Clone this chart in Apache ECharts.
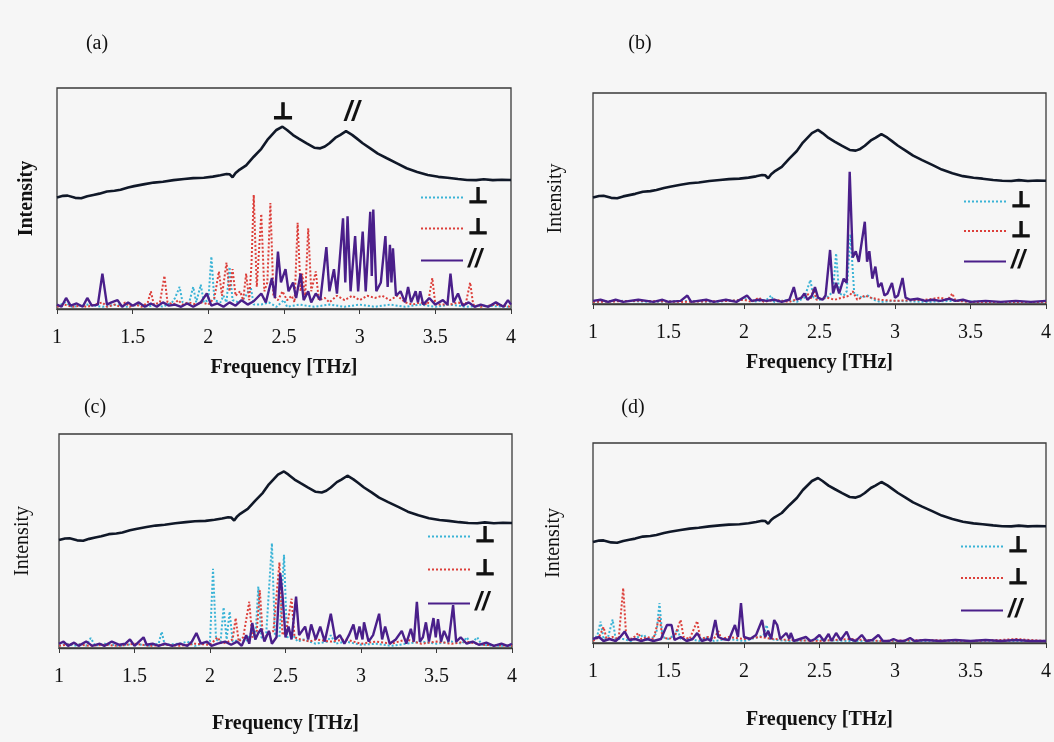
<!DOCTYPE html>
<html>
<head>
<meta charset="utf-8">
<script src="https://cdn.jsdelivr.net/npm/echarts@6/dist/echarts.min.js"></script>
<style>
  html, body { margin: 0; padding: 0; background: #f6f6f6; }
  #chart { width: 1054px; height: 742px; }
</style>
</head>
<body>
<div id="chart"></div>
<script>
// frequency axis ticks [THz]
var freqMin = 1, freqMax = 4, freqStep = 0.5;

// measured broad spectrum (same curve in every panel), intensity in % of panel height
var spectrum = [[1.0,50.5],[1.04,51.2],[1.07,51.3],[1.12,50.3],[1.16,50.1],[1.2,51],[1.24,51.6],[1.28,52.2],[1.33,53.2],[1.38,53.5],[1.42,54],[1.47,55],[1.51,55.6],[1.58,56.5],[1.64,57.2],[1.7,57.6],[1.77,58.3],[1.84,58.8],[1.9,59.2],[1.97,59.4],[2.03,59.9],[2.08,60.5],[2.12,61.1],[2.14,61],[2.16,59.6],[2.18,61.5],[2.2,62.7],[2.25,65],[2.3,68.9],[2.35,72.5],[2.39,76.5],[2.45,81],[2.49,82.5],[2.52,81],[2.56,78.7],[2.6,77],[2.65,74.9],[2.7,73],[2.74,72.7],[2.77,73.5],[2.8,75],[2.84,77.5],[2.87,78.7],[2.91,80.5],[2.95,78.8],[2.98,77.2],[3.02,75],[3.07,72.7],[3.12,70.3],[3.18,68.2],[3.25,65.8],[3.31,63.7],[3.38,62],[3.45,60.6],[3.52,59.8],[3.58,59.4],[3.65,58.8],[3.71,58.4],[3.77,58.3],[3.82,58.7],[3.88,58.3],[3.94,58.5],[4.0,58.4]];

// panel (a)
var aPerpCyan = [[1.0,1],[1.05,3],[1.1,1],[1.2,2],[1.3,1],[1.4,2],[1.45,1],[1.55,2],[1.6,1],[1.65,2],[1.7,1],[1.76,3],[1.78,5],[1.81,10],[1.83,3],[1.87,2],[1.9,10],[1.92,3],[1.95,11],[1.97,3],[2.0,4],[2.02,23.7],[2.04,4],[2.08,3],[2.1,6],[2.12,3],[2.14,19],[2.16,4],[2.2,3],[2.24,5],[2.28,10],[2.3,2],[2.35,2],[2.4,3],[2.45,1],[2.5,4],[2.52,1],[2.6,2],[2.7,1],[2.8,2],[2.9,1],[3.0,2],[3.1,1],[3.2,2],[3.3,1],[3.4,2],[3.5,1],[3.6,2],[3.7,1],[3.8,1.5],[4.0,1]];
var aPerpRed = [[1.0,1],[1.05,2],[1.1,1],[1.15,1.5],[1.2,1],[1.25,2],[1.3,3],[1.33,1],[1.38,2],[1.42,1],[1.45,3],[1.48,1],[1.52,2],[1.56,1],[1.6,3],[1.62,8],[1.64,2],[1.68,3],[1.71,15],[1.73,3],[1.77,2],[1.8,4],[1.83,2],[1.87,3],[1.92,2],[1.96,3],[2.0,2],[2.04,5],[2.07,17],[2.09,6],[2.12,21],[2.14,8],[2.16,18],[2.18,6],[2.21,8],[2.23,4],[2.25,16],[2.27,4],[2.285,20],[2.3,51.6],[2.32,10],[2.35,43],[2.37,8],[2.39,12],[2.41,48],[2.43,6],[2.46,4],[2.49,8],[2.52,4],[2.55,6],[2.57,3],[2.59,39],[2.61,8],[2.62,16],[2.64,6],[2.66,36.5],[2.68,8],[2.71,17],[2.73,4],[2.77,5],[2.8,3],[2.85,6],[2.9,4],[2.95,6],[3.0,4],[3.05,6],[3.1,5],[3.15,6],[3.2,4],[3.25,6],[3.3,3],[3.35,2],[3.4,3],[3.45,2],[3.48,14],[3.5,2],[3.55,2],[3.6,2],[3.65,3],[3.7,2],[3.73,12],[3.75,2],[3.8,1],[3.9,2],[4.0,1]];
var aPar = [[1.0,2],[1.03,1],[1.06,5],[1.09,1.5],[1.13,2.5],[1.17,1],[1.2,5],[1.23,1.5],[1.27,2],[1.3,16],[1.33,2],[1.36,3],[1.4,4],[1.43,1],[1.47,3],[1.5,1.5],[1.54,3],[1.58,1],[1.62,2.5],[1.66,1],[1.7,3],[1.74,1.5],[1.78,2],[1.82,1],[1.86,2.5],[1.9,1],[1.95,3],[1.99,7],[2.02,1.5],[2.06,2.5],[2.1,1],[2.14,3],[2.18,1.5],[2.22,4],[2.26,2],[2.3,3.5],[2.35,7],[2.38,3],[2.42,14],[2.44,5],[2.46,26],[2.48,12],[2.51,18],[2.53,8],[2.56,12],[2.58,5],[2.61,16],[2.63,4],[2.66,8],[2.68,3],[2.71,7],[2.74,4],[2.78,28],[2.8,8],[2.83,18],[2.85,7],[2.89,41],[2.905,12],[2.92,42],[2.94,8],[2.97,33],[2.99,8],[3.02,35],[3.04,8],[3.07,44],[3.08,15],[3.09,45],[3.11,8],[3.14,12],[3.17,33],[3.185,10],[3.2,29],[3.21,12],[3.22,27.5],[3.24,6],[3.27,8],[3.3,3],[3.32,10],[3.34,3],[3.37,8],[3.385,3],[3.4,8],[3.42,2],[3.46,5],[3.5,2],[3.55,4],[3.58,2],[3.6,16],[3.62,3],[3.65,7],[3.68,1.5],[3.72,3],[3.76,1],[3.8,2],[3.85,1],[3.9,3],[3.95,1],[3.98,4],[4.0,2]];

// panel (b)
var bPerpCyan = [[1.0,1],[1.2,1.5],[1.4,1],[1.6,1.5],[1.8,1],[2.0,2],[2.03,3],[2.06,1],[2.15,2],[2.18,4],[2.2,1],[2.3,2],[2.35,1],[2.4,3],[2.44,11.4],[2.46,3],[2.5,2],[2.55,3],[2.59,6],[2.61,24],[2.63,5],[2.66,4],[2.68,6],[2.705,33],[2.73,5],[2.78,3],[2.82,4],[2.86,2],[2.9,1],[3.0,1.5],[3.2,1],[3.4,1.5],[3.6,1],[4.0,1]];
var bPerpRed = [[1.0,1],[1.3,1.5],[1.6,1],[1.9,1.5],[2.0,2],[2.05,1],[2.1,3],[2.13,1],[2.2,2],[2.3,1],[2.38,3],[2.42,5],[2.44,2],[2.46,7],[2.48,2],[2.55,3],[2.6,2],[2.65,3],[2.7,4],[2.72,6],[2.75,2],[2.8,4],[2.84,3],[2.9,2],[3.0,1.5],[3.2,2],[3.3,3],[3.35,2],[3.38,5],[3.4,1.5],[3.5,1],[4.0,1]];
var bPar = [[1.0,1.5],[1.05,2],[1.1,1],[1.15,2],[1.2,1],[1.3,2],[1.4,1],[1.46,2],[1.5,1],[1.58,1.5],[1.625,4],[1.65,1],[1.75,2],[1.8,1],[1.88,2],[1.95,1],[2.02,4],[2.05,1.5],[2.1,2],[2.15,1.5],[2.2,2],[2.25,1],[2.3,2],[2.33,8],[2.35,2],[2.38,3],[2.4,5],[2.42,2],[2.45,4],[2.47,8],[2.49,3],[2.52,2],[2.54,4],[2.57,25.6],[2.59,5],[2.61,10],[2.63,5],[2.66,12],[2.68,10],[2.7,62.7],[2.72,22],[2.74,25],[2.76,20],[2.8,39],[2.815,20],[2.83,25],[2.85,12],[2.87,17.7],[2.89,8],[2.91,10],[2.93,4],[2.95,5],[2.98,10],[3.0,3],[3.02,4],[3.05,12.3],[3.07,3],[3.1,2],[3.15,2.5],[3.2,1.5],[3.25,2],[3.3,1.5],[3.36,2.5],[3.4,1.5],[3.45,2],[3.5,1],[3.6,1.5],[3.7,1],[3.8,1.5],[3.9,1],[4.0,1.5]];

// panel (c)
var cPerpCyan = [[1.0,1],[1.05,2],[1.1,1],[1.15,2],[1.18,1],[1.21,4.7],[1.24,1],[1.3,2],[1.4,1],[1.5,2],[1.6,1],[1.66,2],[1.68,7.6],[1.7,1.5],[1.8,2],[1.85,3],[1.9,1],[1.95,2],[2.0,3],[2.02,37],[2.04,4],[2.07,3],[2.09,19],[2.11,4],[2.13,17],[2.15,3],[2.2,4],[2.24,3],[2.28,8],[2.3,4],[2.32,28.7],[2.34,5],[2.37,4],[2.41,49],[2.43,6],[2.46,5],[2.49,43.5],[2.51,5],[2.55,6],[2.58,3],[2.62,4],[2.7,2],[2.78,3],[2.8,6],[2.83,2],[2.9,3],[3.0,1.5],[3.1,2],[3.2,1],[3.3,2],[3.4,3],[3.5,2],[3.6,3],[3.67,2],[3.7,5],[3.73,2],[3.77,5],[3.8,1.5],[3.9,1],[4.0,1]];
var cPerpRed = [[1.0,1],[1.1,2],[1.2,1],[1.3,1.5],[1.4,1],[1.5,2],[1.6,1],[1.7,1.5],[1.8,1],[1.9,2],[2.0,1.5],[2.05,5],[2.08,2],[2.12,3],[2.15,4],[2.17,14],[2.19,3],[2.22,5],[2.26,21.6],[2.28,5],[2.31,8],[2.33,27],[2.35,5],[2.38,6],[2.42,8],[2.46,40],[2.48,6],[2.51,10],[2.54,23],[2.56,5],[2.6,4],[2.66,3],[2.7,4],[2.8,3],[2.9,4],[3.0,2],[3.1,3],[3.2,2],[3.3,4],[3.4,2],[3.5,3],[3.6,2],[3.7,3],[3.8,1.5],[4.0,1]];
var cPar = [[1.0,2],[1.03,3],[1.06,1],[1.1,2.5],[1.13,1],[1.18,3],[1.22,1],[1.27,2],[1.3,1],[1.35,3],[1.4,1.5],[1.44,2],[1.47,4],[1.5,1],[1.53,3],[1.56,5],[1.58,1.5],[1.62,2],[1.66,1],[1.7,2],[1.75,1],[1.8,2],[1.85,1],[1.88,3],[1.91,7],[1.94,2],[1.98,3],[2.01,1],[2.05,2],[2.1,3],[2.14,1.5],[2.18,3],[2.21,1],[2.24,6],[2.26,2],[2.28,11.7],[2.3,4],[2.32,7],[2.34,9],[2.36,3],[2.39,8],[2.41,2],[2.44,5],[2.465,35],[2.48,25],[2.5,5],[2.52,10],[2.54,4],[2.57,24],[2.59,6],[2.61,8],[2.63,10],[2.65,4],[2.67,11],[2.7,4],[2.73,10],[2.76,3],[2.8,16],[2.83,4],[2.86,6],[2.89,2],[2.92,6],[2.95,11],[2.97,4],[2.99,10],[3.01,4],[3.02,12],[3.05,3],[3.08,6],[3.12,16],[3.14,4],[3.16,10],[3.19,2],[3.23,4],[3.27,8],[3.3,2],[3.33,9],[3.35,3],[3.37,21.6],[3.39,3],[3.41,5],[3.43,12],[3.45,3],[3.48,14],[3.495,5],[3.51,13.5],[3.53,3],[3.55,8],[3.58,3],[3.61,20],[3.63,3],[3.66,5],[3.7,2],[3.74,3],[3.78,1.5],[3.83,2.5],[3.88,1],[3.93,2],[3.97,1],[4.0,2]];

// panel (d)
var dPerpCyan = [[1.0,1],[1.03,4],[1.05,10.7],[1.07,2],[1.1,3],[1.13,11.7],[1.15,2],[1.2,2],[1.25,1],[1.3,3],[1.34,4],[1.36,1],[1.4,3],[1.42,5],[1.44,20],[1.46,3],[1.5,2],[1.54,4],[1.56,7],[1.58,2],[1.65,2],[1.7,1],[1.76,3],[1.8,1],[1.9,2],[2.0,1],[2.1,3],[2.13,4],[2.15,9],[2.17,2],[2.22,1.5],[2.3,1],[2.5,1.5],[2.7,1],[3.0,1],[3.5,1],[4.0,1]];
var dPerpRed = [[1.0,1],[1.04,3],[1.07,8],[1.09,2],[1.13,3],[1.17,2],[1.2,27.5],[1.22,3],[1.26,2],[1.3,5],[1.32,2],[1.36,3],[1.4,2],[1.44,13],[1.46,3],[1.5,2],[1.54,3],[1.58,11.5],[1.6,3],[1.64,2],[1.69,11],[1.71,2],[1.76,3],[1.8,2],[1.83,6],[1.85,2],[1.9,3],[2.0,2],[2.1,3],[2.2,2],[2.3,1.5],[2.5,1],[2.7,2],[2.9,1],[3.2,1.5],[3.5,1],[3.7,1.5],[3.8,2],[4.0,1]];
var dPar = [[1.0,2],[1.04,3],[1.07,1],[1.11,2],[1.15,1],[1.18,3],[1.21,5.7],[1.24,1.5],[1.28,2],[1.32,1],[1.36,2],[1.4,1],[1.45,2],[1.49,9],[1.52,9],[1.54,1.5],[1.58,3],[1.62,1],[1.66,2],[1.69,5],[1.72,1],[1.76,2],[1.78,1],[1.81,11.5],[1.83,3],[1.86,2],[1.9,1.5],[1.94,9],[1.96,3],[1.98,20],[2.0,3],[2.04,2],[2.08,4],[2.12,11.5],[2.14,3],[2.16,6],[2.18,2],[2.2,11.5],[2.22,9],[2.24,2],[2.28,5],[2.3,2],[2.31,5],[2.33,1],[2.37,2],[2.41,3],[2.44,1],[2.47,2],[2.5,4],[2.53,1],[2.56,4.5],[2.58,1],[2.61,5],[2.64,1.5],[2.68,5.7],[2.7,2],[2.74,1],[2.78,4],[2.81,1],[2.85,1.5],[2.89,4],[2.92,1],[2.96,1],[2.99,2],[3.02,1],[3.06,1],[3.1,2.5],[3.13,1],[3.2,1.5],[3.3,1],[3.4,1.5],[3.5,1],[3.6,1.5],[3.7,1],[3.8,1.5],[3.9,1],[4.0,1]];

var panelLabels = ['(a)', '(b)', '(c)', '(d)'];
var xTitle = 'Frequency [THz]';
var yTitle = 'Intensity';
var perpSign = '⊥', parSign = '//';

var SERIF = '"Liberation Serif", "Times New Roman", serif';
var SANS = '"Liberation Sans", Arial, sans-serif';
var C_SPEC = '#101828', C_PAR = '#4a1f8a', C_RED = '#dc3f3a', C_CYAN = '#3ab3d6';

var panels = [
  { id: 'a', grid: { left: 57, top: 88, width: 454, height: 221 }, cyan: aPerpCyan, red: aPerpRed, par: aPar,
    nameGap: 49, yGap: 20, yBold: true, legend: { left: 420, top: 186, gap: 8 }, label: [97, 44] },
  { id: 'b', grid: { left: 593, top: 93, width: 456, height: 211 }, cyan: bPerpCyan, red: bPerpRed, par: bPar,
    nameGap: 49, yGap: 27, yBold: false, legend: { left: 963, top: 190, gap: 6.5 }, label: [640, 44] },
  { id: 'c', grid: { left: 59, top: 434, width: 453, height: 214 }, cyan: cPerpCyan, red: cPerpRed, par: cPar,
    nameGap: 66, yGap: 26, yBold: false, legend: { left: 427, top: 525, gap: 10 }, label: [95, 408] },
  { id: 'd', grid: { left: 593, top: 443, width: 456, height: 200 }, cyan: dPerpCyan, red: dPerpRed, par: dPar,
    nameGap: 67, yGap: 29, yBold: false, legend: { left: 960, top: 535, gap: 8.5 }, label: [633, 408] }
];

var grids = [], xAxes = [], yAxes = [], series = [], legends = [], graphics = [];

panels.forEach(function (p, i) {
  grids.push({
    left: p.grid.left, top: p.grid.top, width: p.grid.width, height: p.grid.height,
    show: true, borderColor: '#3a3a3a', borderWidth: 1.3, backgroundColor: 'transparent'
  });
  xAxes.push({
    type: 'value', gridIndex: i, min: freqMin, max: freqMax, interval: freqStep,
    name: xTitle, nameLocation: 'middle', nameGap: p.nameGap,
    nameTextStyle: { fontFamily: SERIF, fontSize: 20, fontWeight: 'bold', color: '#111' },
    axisLine: { lineStyle: { color: '#3a3a3a', width: 1.3 } },
    axisTick: { show: true, length: 5, lineStyle: { color: '#3a3a3a' } },
    axisLabel: { fontFamily: SERIF, fontSize: 20, color: '#111', margin: 19 },
    splitLine: { show: false }
  });
  yAxes.push({
    type: 'value', gridIndex: i, min: 0, max: 100,
    name: yTitle, nameLocation: 'middle', nameGap: p.yGap,
    nameTextStyle: { fontFamily: SERIF, fontSize: 20, fontWeight: p.yBold ? 'bold' : 'normal', color: '#111' },
    axisLine: { show: false }, axisTick: { show: false }, axisLabel: { show: false },
    splitLine: { show: false }
  });

  var base = { type: 'line', xAxisIndex: i, yAxisIndex: i, symbol: 'none', smooth: false, z: 2 };
  series.push(Object.assign({}, base, {
    name: p.id + '-spec', data: spectrum, lineStyle: { color: C_SPEC, width: 2.6 }, itemStyle: { color: C_SPEC }
  }));
  series.push(Object.assign({}, base, {
    name: p.id + '-perp1', data: p.cyan, lineStyle: { color: C_CYAN, width: 2, type: 'dotted' }, itemStyle: { color: C_CYAN }
  }));
  series.push(Object.assign({}, base, {
    name: p.id + '-perp2', data: p.red, lineStyle: { color: C_RED, width: 2, type: 'dotted' }, itemStyle: { color: C_RED }
  }));
  series.push(Object.assign({}, base, {
    name: p.id + '-par', data: p.par, lineStyle: { color: C_PAR, width: 2.4 }, itemStyle: { color: C_PAR }, z: 3
  }));

  legends.push({
    orient: 'vertical', left: p.legend.left, top: p.legend.top, itemGap: p.legend.gap,
    itemWidth: 42, itemHeight: 24, selectedMode: false, padding: 0,
    itemStyle: { color: 'rgba(0,0,0,0)', borderWidth: 0, opacity: 0 },
    data: [p.id + '-perp1', p.id + '-perp2', p.id + '-par'],
    formatter: function (name) {
      return name.indexOf('-par') >= 0 ? '{s|' + parSign + '}' : '{p|' + perpSign + '}';
    },
    textStyle: {
      rich: {
        p: { fontFamily: '"DejaVu Sans", sans-serif', fontSize: 22, fontWeight: 'bold', color: '#111',
             textBorderColor: '#111', textBorderWidth: 1, lineHeight: 20 },
        s: { fontFamily: SANS, fontSize: 25, fontWeight: 'bold', fontStyle: 'italic', color: '#111', lineHeight: 20 }
      }
    }
  });

  graphics.push({
    type: 'text', x: p.label[0], y: p.label[1],
    style: { text: panelLabels[i], fontFamily: SERIF, fontSize: 20, fill: '#111', align: 'center', verticalAlign: 'middle' }
  });
});

// peak annotations in panel (a)
graphics.push({
  type: 'text', x: 283, y: 113,
  style: { text: perpSign, fontFamily: '"DejaVu Sans", sans-serif', fontSize: 23, fontWeight: 'bold', fill: '#111',
           stroke: '#111', lineWidth: 1, align: 'center', verticalAlign: 'middle' }
});
graphics.push({
  type: 'text', x: 352, y: 113,
  style: { text: parSign, fontFamily: SANS, fontSize: 27, fontWeight: 'bold', fontStyle: 'italic', fill: '#111',
           align: 'center', verticalAlign: 'middle' }
});

var myChart = echarts.init(document.getElementById('chart'));
myChart.setOption({
  backgroundColor: '#f6f6f6',
  animation: false,
  grid: grids,
  xAxis: xAxes,
  yAxis: yAxes,
  legend: legends,
  series: series,
  graphic: graphics
});
</script>
</body>
</html>
